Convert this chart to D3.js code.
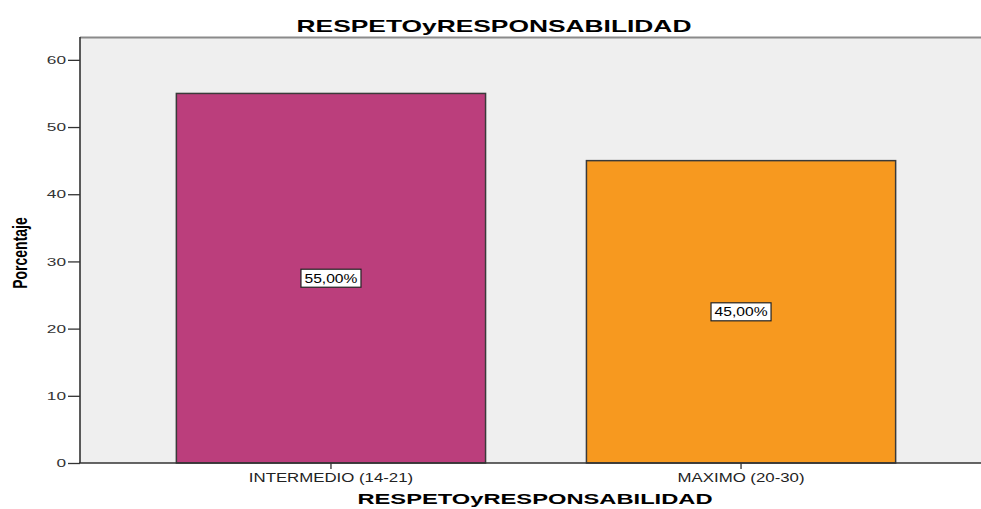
<!DOCTYPE html>
<html>
<head>
<meta charset="utf-8">
<script src="https://cdn.jsdelivr.net/npm/d3@7"></script>
<style>
  body { margin: 0; background: #fff; }
  svg { display: block; font-family: Arial, "Liberation Sans", sans-serif; }
</style>
</head>
<body>
<div id="chart"></div>
<script>
const categories = ["INTERMEDIO (14-21)", "MAXIMO (20-30)"];
const percentages = [55, 45];
const labels = ["55,00%", "45,00%"];
const barColors = ["#bb3e7c", "#f7991f"];
const yTicks = [0, 10, 20, 30, 40, 50, 60];

const width = 981;
const height = 509;
const plot = { left: 80, right: 992, top: 37, bottom: 463 };

// el gráfico original está estirado en horizontal
const stretch = (sel, factor) => {
  sel.each(function () {
    const w = this.getComputedTextLength();
    d3.select(this)
      .attr("textLength", w * factor)
      .attr("lengthAdjust", "spacingAndGlyphs");
  });
};

const svg = d3.select("#chart")
  .append("svg")
  .attr("width", width)
  .attr("height", height);

const x = d3.scaleBand()
  .domain(categories)
  .range([plot.left, plot.right])
  .paddingInner(0.246)
  .paddingOuter(0.235);

const y = d3.scaleLinear()
  .domain([0, 63.4])
  .range([plot.bottom, plot.top]);

// fondo del área
svg.append("rect")
  .attr("x", plot.left)
  .attr("y", plot.top)
  .attr("width", plot.right - plot.left)
  .attr("height", plot.bottom - plot.top)
  .attr("fill", "#efefef");

// borde superior
svg.append("line")
  .attr("x1", plot.left).attr("x2", plot.right)
  .attr("y1", plot.top + 0.5).attr("y2", plot.top + 0.5)
  .attr("stroke", "#8a8a8a")
  .attr("stroke-width", 2);

// barras
const bars = svg.selectAll("g.bar")
  .data(categories)
  .enter()
  .append("g")
  .attr("class", "bar");

bars.append("rect")
  .attr("x", d => x(d))
  .attr("y", (d, i) => y(percentages[i]))
  .attr("width", x.bandwidth())
  .attr("height", (d, i) => y(0) - y(percentages[i]))
  .attr("fill", (d, i) => barColors[i])
  .attr("stroke", "#3a3a3a")
  .attr("stroke-width", 1.5);

// etiquetas
bars.each(function (d, i) {
  const g = d3.select(this);
  const cx = x(d) + x.bandwidth() / 2;
  const cy = (y(percentages[i]) + y(0)) / 2;
  const t = g.append("text")
    .attr("x", cx)
    .attr("y", cy + 4.5)
    .attr("text-anchor", "middle")
    .attr("font-size", 12.5)
    .attr("fill", "#000")
    .text(labels[i]);
  stretch(t, 1.25);
  const w = +t.attr("textLength") + 7;
  g.insert("rect", "text")
    .attr("x", cx - w / 2)
    .attr("y", cy - 9)
    .attr("width", w)
    .attr("height", 18)
    .attr("fill", "#fff")
    .attr("stroke", "#222")
    .attr("stroke-width", 1.2);
});

// eje Y
const yAxis = svg.append("g")
  .attr("transform", `translate(${plot.left},0)`)
  .call(d3.axisLeft(y).tickValues(yTicks).tickSize(12).tickPadding(2));
yAxis.select(".domain").remove();
yAxis.selectAll(".tick line").attr("stroke", "#333").attr("stroke-width", 1.3);
yAxis.selectAll(".tick text")
  .attr("font-size", 11.5)
  .attr("font-family", "Arial, 'Liberation Sans', sans-serif")
  .attr("fill", "#333")
  .call(stretch, 1.5);

svg.append("line")
  .attr("x1", plot.left).attr("x2", plot.left)
  .attr("y1", plot.top).attr("y2", plot.bottom)
  .attr("stroke", "#333")
  .attr("stroke-width", 1.6);

// eje X
const xAxis = svg.append("g")
  .attr("transform", `translate(0,${plot.bottom})`)
  .call(d3.axisBottom(x).tickSize(6).tickPadding(4));
xAxis.select(".domain").remove();
xAxis.selectAll(".tick line").attr("stroke", "#333").attr("stroke-width", 1.3);
xAxis.selectAll(".tick text")
  .attr("font-size", 12)
  .attr("font-family", "Arial, 'Liberation Sans', sans-serif")
  .attr("fill", "#222")
  .call(stretch, 1.4);

svg.append("line")
  .attr("x1", plot.left - 1).attr("x2", plot.right)
  .attr("y1", plot.bottom).attr("y2", plot.bottom)
  .attr("stroke", "#333")
  .attr("stroke-width", 1.6);

// títulos
svg.append("text")
  .attr("x", 494)
  .attr("y", 32)
  .attr("text-anchor", "middle")
  .attr("font-size", 17)
  .attr("font-weight", "bold")
  .text("RESPETOyRESPONSABILIDAD")
  .call(stretch, 1.55);

svg.append("text")
  .attr("x", 535)
  .attr("y", 504)
  .attr("text-anchor", "middle")
  .attr("font-size", 15)
  .attr("font-weight", "bold")
  .text("RESPETOyRESPONSABILIDAD")
  .call(stretch, 1.58);

svg.append("text")
  .attr("transform", "translate(27,253) scale(1.4,1) rotate(-90)")
  .attr("text-anchor", "middle")
  .attr("font-size", 14)
  .attr("font-weight", "bold")
  .text("Porcentaje");
</script>
</body>
</html>
